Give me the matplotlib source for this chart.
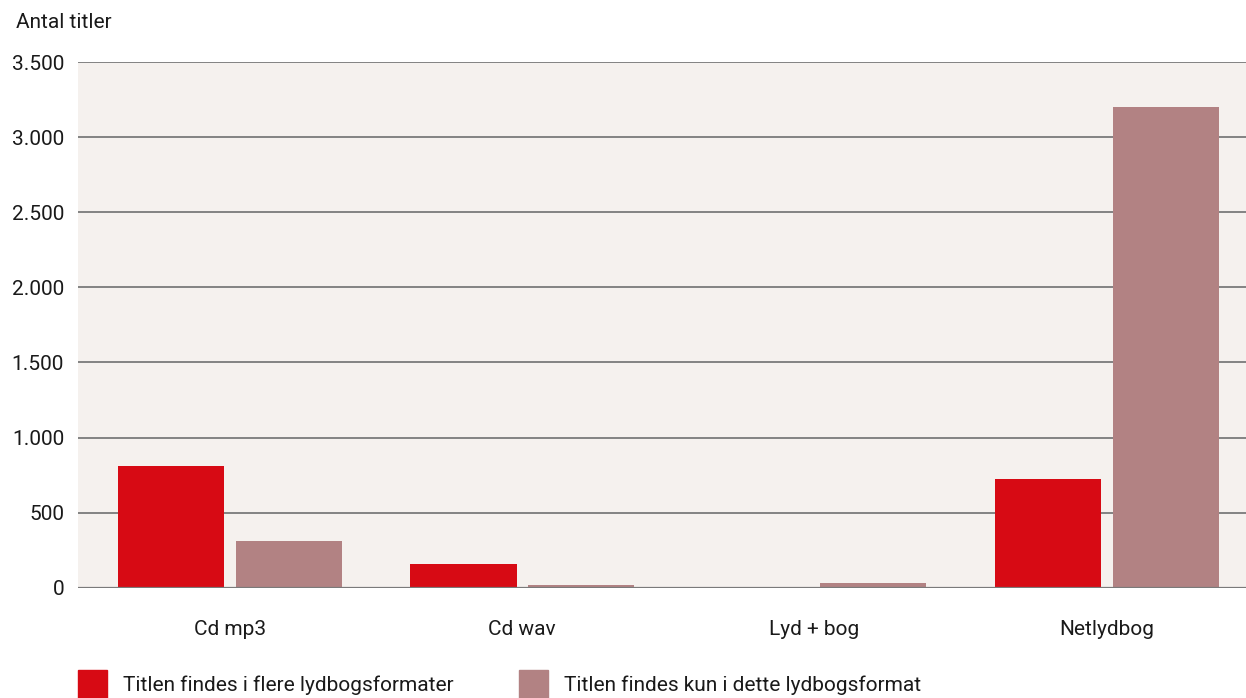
import matplotlib.pyplot as plt
import numpy as np
from matplotlib.patches import Rectangle
from matplotlib.ticker import FuncFormatter

plt.rcParams['font.family'] = ['Roboto', 'DejaVu Sans']

categories = ['Cd mp3', 'Cd wav', 'Lyd + bog', 'Netlydbog']
flere = [809, 158, 0, 723]
kun = [310, 18, 31, 3203]
labels = ['Titlen findes i flere lydbogsformater', 'Titlen findes kun i dette lydbogsformat']

red = '#D70A14'
rose = '#B28283'
bg = '#F5F1EE'
grid = '#7a7a7a'
txt = '#1a1a1a'
fs = 15

W, H = 1246, 698
fig = plt.figure(figsize=(W / 100, H / 100), dpi=100)
ax = fig.add_axes([78 / W, 1 - 587.7 / H, 1 - 78 / W, (587.7 - 62) / H])
ax.set_facecolor(bg)

x = np.arange(len(categories))
w = 0.363
off = 0.201
ax.bar(x - off, flere, w, color=red, zorder=3)
ax.bar(x + off, kun, w, color=rose, zorder=3)

ax.set_xlim(-0.52, 3.476)
ax.set_ylim(0, 3500)
ax.set_yticks(np.arange(0, 3501, 500))
ax.yaxis.set_major_formatter(FuncFormatter(lambda v, p: f'{int(v):,}'.replace(',', '.')))
ax.grid(axis='y', color=grid, linewidth=1.3, zorder=1)
ax.set_xticks(x)
ax.set_xticklabels(categories)
ax.tick_params(axis='both', length=0, labelsize=fs, colors=txt)
ax.tick_params(axis='x', pad=23)
ax.tick_params(axis='y', pad=10)
for s in ax.spines.values():
    s.set_visible(False)
ax.axhline(0, color=grid, linewidth=1.6, zorder=4)

fig.text(16 / W, 1 - 23 / H, 'Antal titler', fontsize=fs, va='center', ha='left', color=txt)

# legend drawn by hand so the squares sit at the bottom edge like the original
for sx, tx, col, lab in [(78, 123, red, labels[0]), (519, 564, rose, labels[1])]:
    fig.patches.append(Rectangle((sx / W, 0), 29 / W, 28 / H, transform=fig.transFigure,
                                 color=col, figure=fig))
    fig.text(tx / W, 1 - 685 / H, lab, fontsize=fs, va='center', ha='left', color=txt)

fig.savefig('out.png', dpi=100, facecolor='white')
